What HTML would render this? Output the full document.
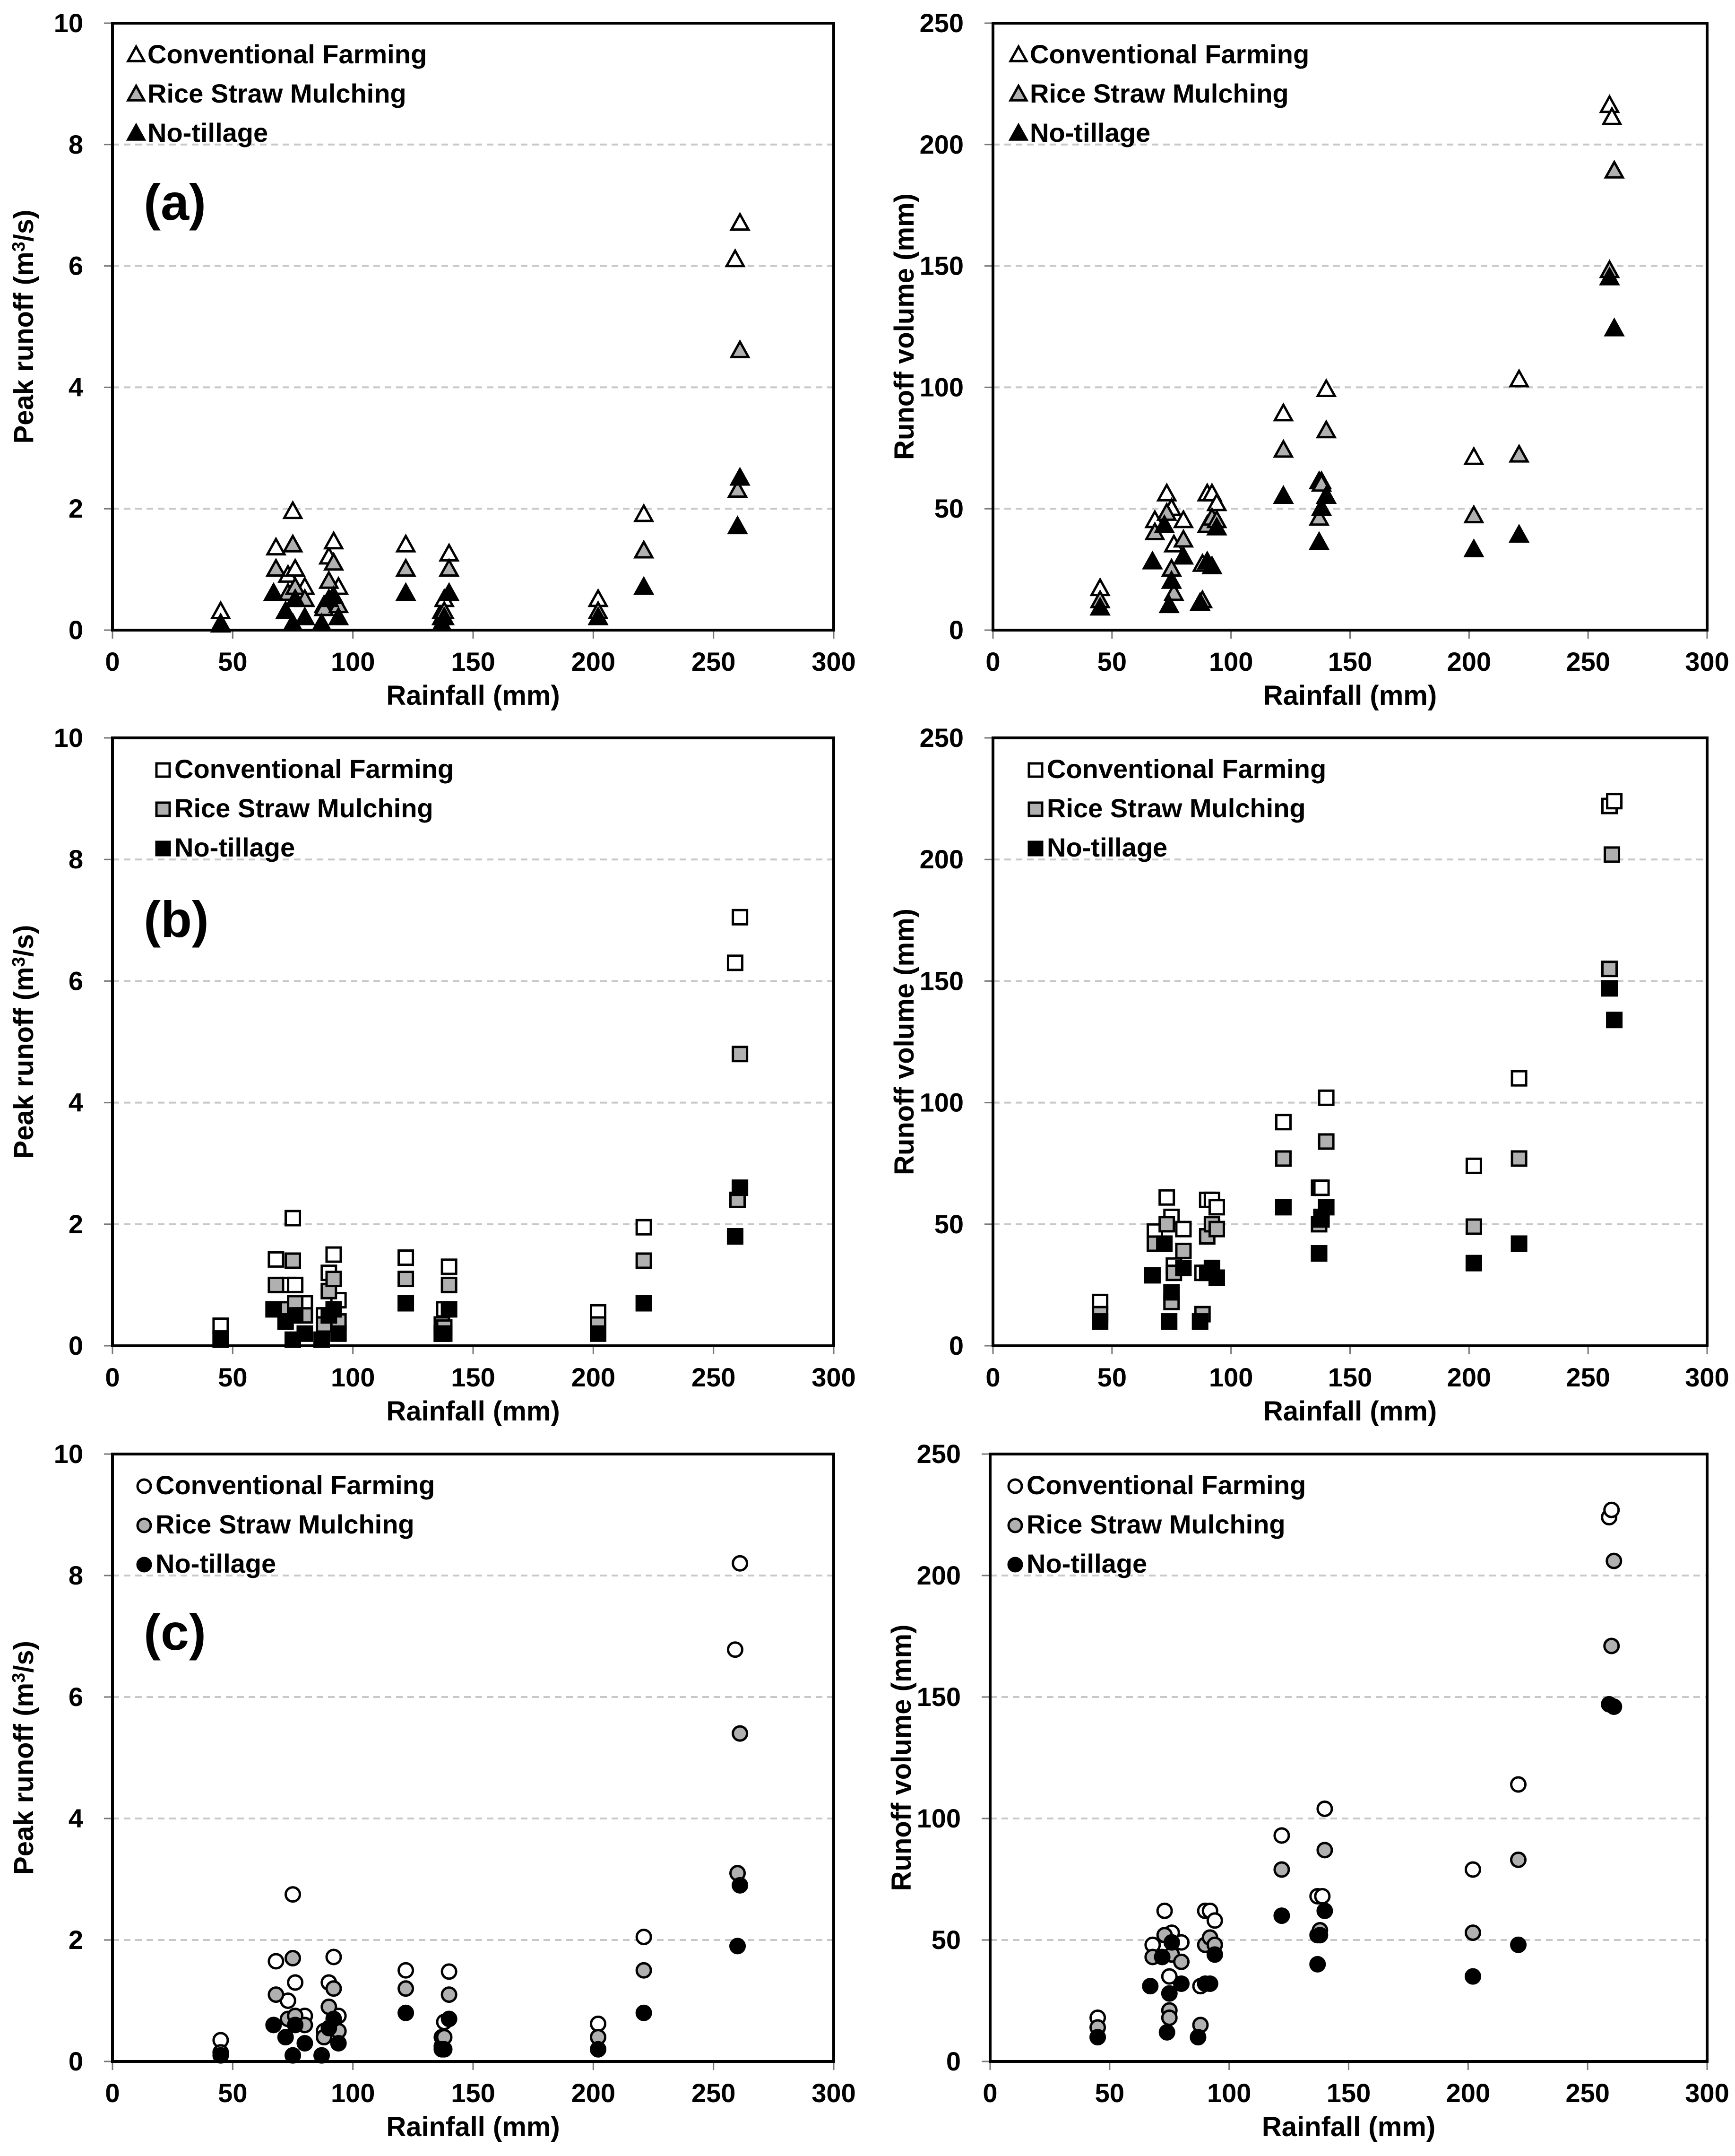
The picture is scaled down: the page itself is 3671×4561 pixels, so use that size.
<!DOCTYPE html>
<html><head><meta charset="utf-8"><style>
html,body{margin:0;padding:0;background:#fff}
svg{display:block}
text{font-family:"Liberation Sans Narrow","Liberation Sans",sans-serif;font-weight:bold;fill:#000}
</style></head><body>
<svg id="fig" xmlns="http://www.w3.org/2000/svg" width="3671" height="4561" viewBox="0 0 3671 4561"></svg>
<script>
// ---- data ----
const seriesNames = ["Conventional Farming","Rice Straw Mulching","No-tillage"];
const xTicks = [0,50,100,150,200,250,300];
const peakTicks = [0,2,4,6,8,10];
const volTicks = [0,50,100,150,200,250];

const aPeakCF = [[45,0.3],[68,1.35],[73,0.9],[75,1.95],[76,1.0],[80,0.7],[88,0.4],[90,1.2],[92,1.45],[94,0.7],[122,1.4],[137,0.3],[138,0.5],[140,1.25],[202,0.5],[221,1.9],[259,6.1],[261,6.7]];
const aPeakRSM = [[45,0.1],[68,1.0],[73,0.6],[75,1.4],[76,0.7],[80,0.5],[88,0.35],[90,0.8],[92,1.1],[94,0.4],[122,1.0],[137,0.2],[138,0.3],[140,1.0],[202,0.3],[221,1.3],[260,2.3],[261,4.6]];
const aPeakNT = [[45,0.08],[67,0.6],[72,0.3],[75,0.1],[76,0.5],[80,0.2],[87,0.1],[90,0.5],[92,0.55],[94,0.2],[122,0.6],[137,0.1],[138,0.2],[140,0.6],[202,0.2],[221,0.7],[260,1.7],[261,2.5]];
const aVolCF = [[45,17],[68,45],[73,56],[75,50],[76,35],[80,45],[88,27],[90,56],[92,56],[94,52],[122,89],[137,61],[138,61],[140,99],[202,71],[221,103],[259,216],[260,211]];
const aVolRSM = [[45,12],[68,40],[73,48],[75,25],[76,15],[80,37],[88,12],[90,43],[92,46],[94,45],[122,74],[137,46],[138,60],[140,82],[202,47],[221,72],[259,148],[261,189]];
const aVolNT = [[45,9],[67,28],[72,43],[74,10],[75,20],[80,30],[87,11],[90,28],[92,26],[94,42],[122,55],[137,36],[138,50],[140,55],[202,33],[221,39],[259,145],[261,124]];

const bPeakCF = [[45,0.33],[68,1.42],[73,1.0],[75,2.1],[76,1.0],[80,0.7],[88,0.5],[90,1.2],[92,1.5],[94,0.75],[122,1.45],[137,0.35],[138,0.6],[140,1.3],[202,0.55],[221,1.95],[259,6.3],[261,7.05]];
const bPeakRSM = [[45,0.12],[68,1.0],[73,0.6],[75,1.4],[76,0.7],[80,0.5],[88,0.35],[90,0.9],[92,1.1],[94,0.4],[122,1.1],[137,0.2],[138,0.3],[140,1.0],[202,0.35],[221,1.4],[260,2.4],[261,4.8]];
const bPeakNT = [[45,0.1],[67,0.6],[72,0.4],[75,0.1],[76,0.5],[80,0.2],[87,0.1],[90,0.5],[92,0.6],[94,0.2],[122,0.7],[137,0.2],[138,0.2],[140,0.6],[202,0.2],[221,0.7],[259,1.8],[261,2.6]];
const bVolCF = [[45,18],[68,47],[73,61],[75,53],[76,33],[80,48],[88,30],[90,60],[92,60],[94,57],[122,92],[137,65],[138,65],[140,102],[202,74],[221,110],[259,222],[261,224]];
const bVolRSM = [[45,13],[68,42],[73,50],[75,18],[76,30],[80,39],[88,13],[90,45],[92,50],[94,48],[122,77],[137,50],[138,53],[140,84],[202,49],[221,77],[259,155],[260,202]];
const bVolNT = [[45,10],[67,29],[72,42],[74,10],[75,22],[80,32],[87,10],[90,30],[92,32],[94,28],[122,57],[137,38],[138,52],[140,57],[202,34],[221,42],[259,147],[261,134]];

const cPeakCF = [[45,0.35],[68,1.65],[73,1.0],[75,2.75],[76,1.3],[80,0.75],[88,0.5],[90,1.3],[92,1.72],[94,0.75],[122,1.5],[137,0.4],[138,0.65],[140,1.48],[202,0.62],[221,2.05],[259,6.78],[261,8.2]];
const cPeakRSM = [[45,0.15],[68,1.1],[73,0.7],[75,1.7],[76,0.75],[80,0.6],[88,0.4],[90,0.9],[92,1.2],[94,0.5],[122,1.2],[137,0.25],[138,0.4],[140,1.1],[202,0.4],[221,1.5],[260,3.1],[261,5.4]];
const cPeakNT = [[45,0.1],[67,0.6],[72,0.4],[75,0.1],[76,0.6],[80,0.3],[87,0.1],[90,0.55],[92,0.7],[94,0.3],[122,0.8],[137,0.2],[138,0.2],[140,0.7],[202,0.2],[221,0.8],[260,1.9],[261,2.9]];
const cVolCF = [[45,18],[68,48],[73,62],[75,35],[76,53],[80,49],[88,31],[90,62],[92,62],[94,58],[122,93],[137,68],[139,68],[140,104],[202,79],[221,114],[259,224],[260,227]];
const cVolRSM = [[45,14],[68,43],[73,52],[75,21],[75,18],[76,44],[80,41],[88,15],[90,48],[92,51],[94,48],[122,79],[137,52],[138,54],[140,87],[202,53],[221,83],[260,171],[261,206]];
const cVolNT = [[45,10],[67,31],[72,43],[74,12],[75,28],[76,49],[80,32],[87,10],[90,32],[92,32],[94,44],[122,60],[137,40],[138,52],[140,62],[202,35],[221,48],[259,147],[261,146]];

const NS = "http://www.w3.org/2000/svg";
const svg = document.getElementById('fig');
function mk(tag, attrs, parent){
  const e = document.createElementNS(NS, tag);
  for (const k in attrs) e.setAttribute(k, attrs[k]);
  (parent||svg).appendChild(e);
  return e;
}
const fills = ["#fff","#b0b0b0","#000"];

function marker(g, shape, cx, cy, fill, s){
  let m;
  if (shape === 'tri'){
    const h = s*0.9;
    m = mk('polygon',{points:`${cx},${cy-h*0.6} ${cx+s/2},${cy+h*0.4} ${cx-s/2},${cy+h*0.4}`,fill:fill,stroke:'#000','stroke-width':5,'stroke-linejoin':'miter'},g);
  } else if (shape === 'sq'){
    m = mk('rect',{x:cx-s/2+3,y:cy-s/2+3,width:s-6,height:s-6,fill:fill,stroke:'#000','stroke-width':5},g);
  } else {
    m = mk('circle',{cx:cx,cy:cy,r:s/2-3,fill:fill,stroke:'#000','stroke-width':5},g);
  }
  return m;
}

function panel(id, L, R, T, B, yMax, yTicks, yTitle, shape, series, legendX, tag, tagY){
  const g = mk('g',{});
  
  
  const xs = v => L + (v/300)*(R-L);
  const ys = v => B - (v/yMax)*(B-T);
  yTicks.forEach(t=>{
    if (t>0 && t<yMax){
      const gl = mk('line',{x1:L,x2:R,y1:ys(t),y2:ys(t),stroke:'#c8c8c8','stroke-width':4,'stroke-dasharray':'14,10'},g);
      
      
    }
  });
  yTicks.forEach(t=>{
    mk('line',{x1:L-18,x2:L,y1:ys(t),y2:ys(t),stroke:'#777','stroke-width':3},g);
    const tx = mk('text',{x:L-62,y:ys(t)+19,'text-anchor':'end','font-size':56},g);
    tx.textContent = t;
    
    
  });
  xTicks.forEach(t=>{
    mk('line',{x1:xs(t),x2:xs(t),y1:B,y2:B+18,stroke:'#777','stroke-width':3},g);
    const tx = mk('text',{x:xs(t),y:B+86,'text-anchor':'middle','font-size':56},g);
    tx.textContent = t;
    
    
  });
  const fr = mk('rect',{x:L,y:T,width:R-L,height:B-T,fill:'none',stroke:'#000','stroke-width':6},g);
  
  
  const xt = mk('text',{x:(L+R)/2,y:B+158,'text-anchor':'middle','font-size':58},g);
  xt.textContent = 'Rainfall (mm)';
  
  
  const yc = L-168, ymid=(T+B)/2;
  const yt = mk('text',{x:yc,y:ymid,'text-anchor':'middle','font-size':58,transform:`rotate(-90 ${yc} ${ymid})`},g);
  
  
  if (yTitle === 'peak'){
    yt.textContent = 'Peak runoff (m';
    const sup = mk('tspan',{'font-size':38,dy:-18},yt); sup.textContent='3';
    const rest = mk('tspan',{dy:18},yt); rest.textContent='/s)';
  } else yt.textContent = 'Runoff volume (mm)';
  series.forEach((arr,si)=>{
    const sg = mk('g',{},g);
    
    
    arr.forEach(p=>{
      const m = marker(sg, shape, xs(p[0]), ys(p[1]), fills[si], 36);
      
      
    });
  });
  const lys = [T+85, T+168, T+251];
  seriesNames.forEach((n,i)=>{
    const lg = mk('g',{},g);
    
    
    marker(lg, shape, legendX, lys[i]-17, fills[i], 34);
    const tx = mk('text',{x:legendX+24,y:lys[i],'font-size':56},lg);
    tx.textContent = n;
  });
  if (tag){
    const tg = mk('text',{x:L+66,y:tagY,'font-size':108},g);
    tg.textContent = tag;
    
    
  }
}

panel('panel-a-peak', 238, 1764, 49, 1333, 10, peakTicks, 'peak', 'tri', [aPeakCF,aPeakRSM,aPeakNT], 288, '(a)', 465);
panel('panel-a-volume', 2101, 3612, 49, 1333, 250, volTicks, 'vol', 'tri', [aVolCF,aVolRSM,aVolNT], 2155, null);
panel('panel-b-peak', 238, 1764, 1561, 2847, 10, peakTicks, 'peak', 'sq', [bPeakCF,bPeakRSM,bPeakNT], 345, '(b)', 1982);
panel('panel-b-volume', 2101, 3612, 1561, 2847, 250, volTicks, 'vol', 'sq', [bVolCF,bVolRSM,bVolNT], 2191, null);
panel('panel-c-peak', 238, 1764, 3076, 4361, 10, peakTicks, 'peak', 'circ', [cPeakCF,cPeakRSM,cPeakNT], 305, '(c)', 3490);
panel('panel-c-volume', 2095, 3612, 3076, 4361, 250, volTicks, 'vol', 'circ', [cVolCF,cVolRSM,cVolNT], 2148, null);
</script>
</body></html>
